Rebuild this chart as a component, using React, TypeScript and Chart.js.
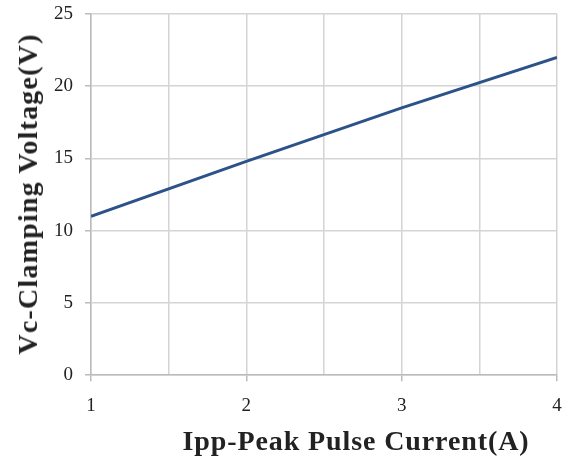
import React, { useEffect, useRef } from "react";
import { Chart, registerables } from "chart.js";

Chart.register(...registerables);

const currentA = [1, 2, 3, 4];
const clampingV = [11, 14.8, 18.5, 22];
const xTitle = "Ipp-Peak Pulse Current(A)";
const yTitle = "Vc-Clamping Voltage(V)";

const titleFont: React.CSSProperties = {
  position: "absolute",
  fontFamily: "'Liberation Serif', serif",
  fontWeight: "bold",
  fontSize: 28,
  color: "#222",
  whiteSpace: "nowrap",
  lineHeight: "32px",
};

export default function App() {
  const ref = useRef<HTMLCanvasElement>(null);
  useEffect(() => {
    const ctx = ref.current!;
    const chart = new Chart(ctx, {
      type: "line",
      data: {
        datasets: [
          {
            data: currentA.map((x, i) => ({ x, y: clampingV[i] })),
            borderColor: "#2c5389",
            borderWidth: 3,
            pointRadius: 0,
            tension: 0,
          },
        ],
      },
      options: {
        animation: false,
        responsive: false,
        plugins: { legend: { display: false }, tooltip: { enabled: false } },
        layout: { padding: { top: 14, right: 21, bottom: 37, left: 42 } },
        scales: {
          x: {
            type: "linear",
            min: 1,
            max: 4,
            ticks: {
              stepSize: 0.5,
              autoSkip: false,
              maxRotation: 0,
              color: "#222",
              font: { family: "Liberation Serif", size: 19 },
              padding: 13,
              callback: (v: any) => (Number.isInteger(v) ? String(v) : ""),
            },
            grid: {
              color: "#d4d4d4",
              lineWidth: 1.5,
              tickLength: 6,
              tickColor: (c: any) =>
                Number.isInteger(c.tick?.value) ? "#bbbbbb" : "rgba(0,0,0,0)",
            },
            border: { color: "#bbbbbb", width: 1.5 },
            afterFit: (s: any) => {
              s.paddingLeft = 0;
              s.paddingRight = 0;
            },
          },
          y: {
            min: 0,
            max: 25,
            ticks: {
              stepSize: 5,
              color: "#222",
              font: { family: "Liberation Serif", size: 19 },
              padding: 12,
            },
            grid: { color: "#d4d4d4", lineWidth: 1.5, tickLength: 6, tickColor: "#bbbbbb" },
            border: { color: "#bbbbbb", width: 1.5 },
            afterFit: (s: any) => {
              s.paddingTop = 0;
              s.paddingBottom = 0;
            },
          },
        },
      },
    });
    return () => chart.destroy();
  }, []);
  return (
    <div style={{ position: "fixed", left: 0, top: 0, width: 578, height: 467, background: "#fff", overflow: "hidden" }}>
      <canvas ref={ref} width={578} height={467} />
      <div
        style={{
          ...titleFont,
          left: 356,
          top: 441,
          transform: "translate(-50%, -50%)",
          letterSpacing: "0.9px",
        }}
      >
        {xTitle}
      </div>
      <div
        style={{
          ...titleFont,
          left: 28,
          top: 194,
          transform: "translate(-50%, -50%) rotate(-90deg)",
          letterSpacing: "1.2px",
        }}
      >
        {yTitle}
      </div>
    </div>
  );
}
